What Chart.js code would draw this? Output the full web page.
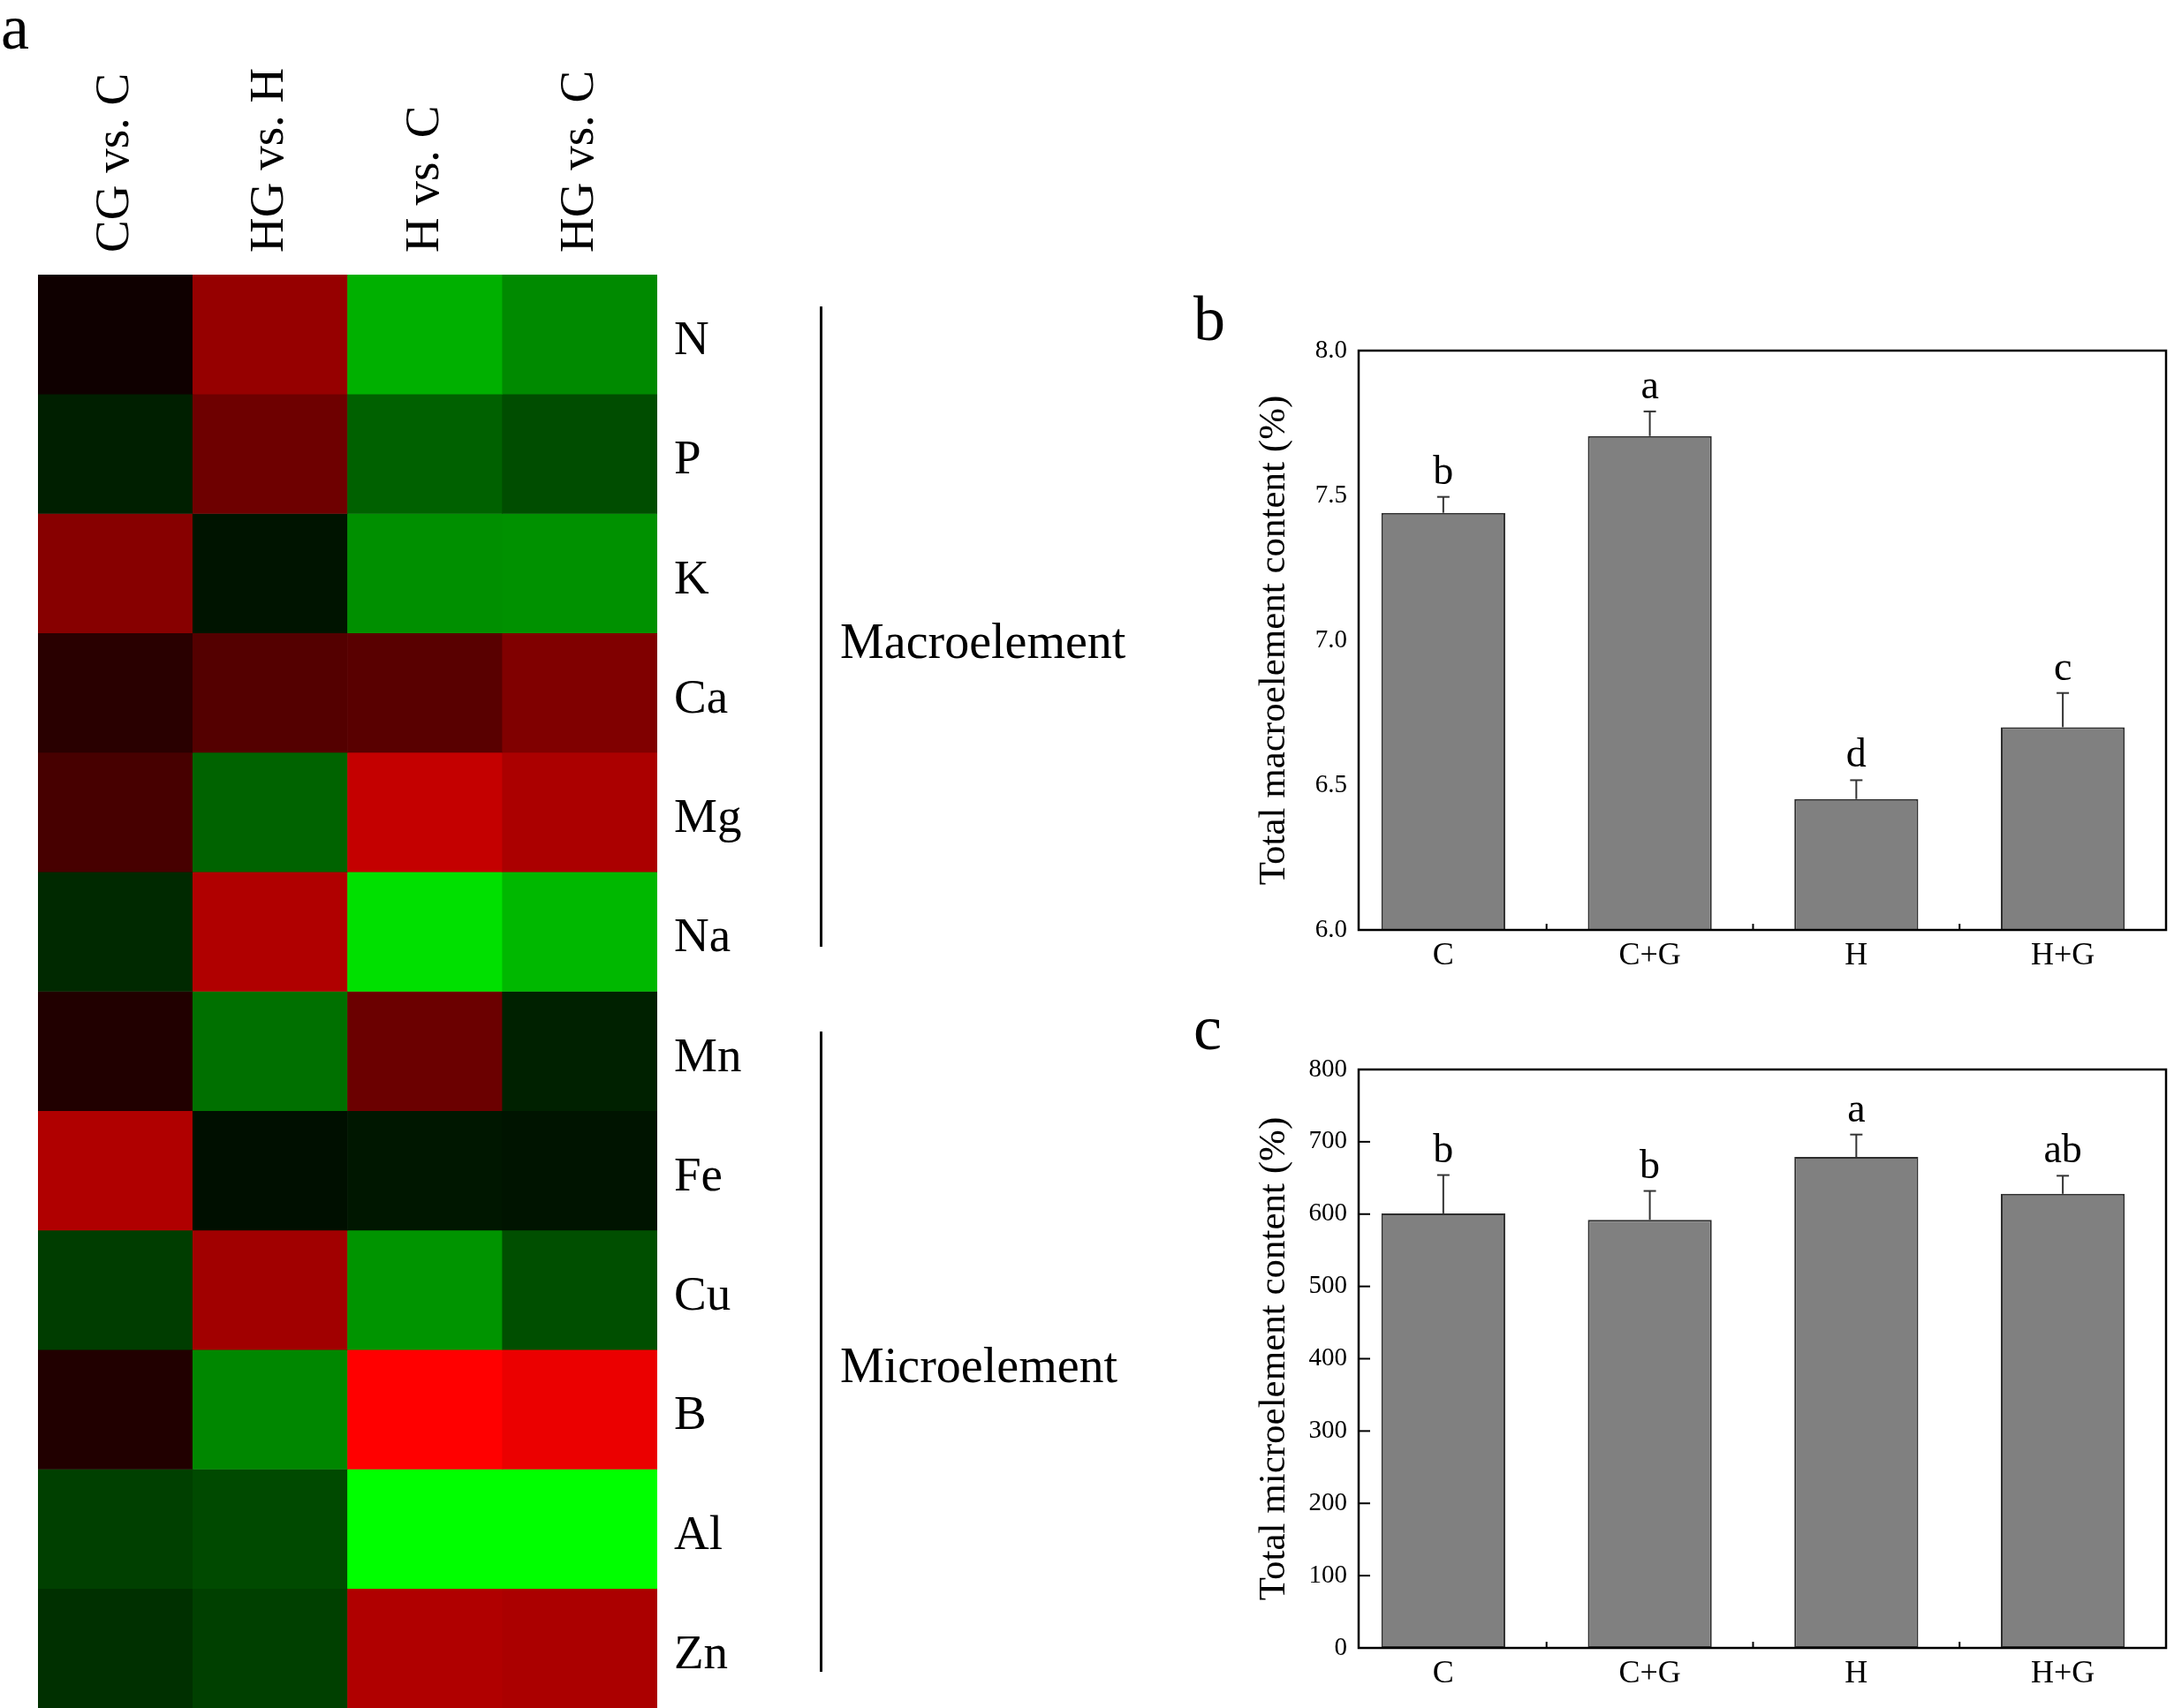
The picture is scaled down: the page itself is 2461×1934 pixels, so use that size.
<!DOCTYPE html>
<html>
<head>
<meta charset="utf-8">
<script src="https://cdn.jsdelivr.net/npm/chart.js@4.4.1/dist/chart.umd.min.js"></script>
<style>
body { margin:0; background:#fff; width:2461px; height:1934px; position:relative; overflow:hidden; font-family:'Liberation Serif','Times New Roman',serif; }
canvas, .lbl, .vline { position:absolute; }
.lbl { line-height:1; color:#000; white-space:nowrap; }
.vline { width:3px; background:#000; }
</style>
</head>
<body>
<div class="lbl" style="left:1px;top:-5px;font-size:72px">a</div>
<div class="lbl" style="left:1351px;top:325px;font-size:72px">b</div>
<div class="lbl" style="left:1351px;top:1128px;font-size:72px">c</div>
<div class="lbl" style="left:951px;top:698px;font-size:56px">Macroelement</div>
<div class="lbl" style="left:951px;top:1518px;font-size:56px">Microelement</div>
<div class="vline" style="left:928px;top:347px;height:725px"></div>
<div class="vline" style="left:928px;top:1168px;height:725px"></div>

<canvas id="heat" width="920" height="1934" style="left:0;top:0"></canvas>
<canvas id="macro" width="1121" height="800" style="left:1340px;top:320px"></canvas>
<canvas id="micro" width="1121" height="804" style="left:1340px;top:1130px"></canvas>

<script>
// heatmap: rows = elements, columns = comparisons
// positive = up (red), negative = down (green)
var elements = ['N', 'P', 'K', 'Ca', 'Mg', 'Na', 'Mn', 'Fe', 'Cu', 'B', 'Al', 'Zn'];
var comparisons = ['CG vs. C', 'HG vs. H', 'H vs. C', 'HG vs. C'];
var cgVsC = [0.06, -0.12, 0.53, 0.16, 0.28, -0.16, 0.13, 0.69, -0.24, 0.13, -0.25, -0.19];
var hgVsH = [0.59, 0.43, -0.08, 0.33, -0.39, 0.69, -0.44, -0.06, 0.63, -0.53, -0.29, -0.25];
var hVsC = [-0.69, -0.38, -0.56, 0.35, 0.77, -0.88, 0.42, -0.09, -0.58, 1.0, -1.0, 0.69];
var hgVsC = [-0.54, -0.30, -0.57, 0.50, 0.67, -0.72, -0.13, -0.08, -0.31, 0.92, -1.0, 0.67];

// bar charts
var treatments = ['C', 'C+G', 'H', 'H+G'];
var macroMean = [7.44, 7.705, 6.452, 6.70];
var macroSE = [0.055, 0.085, 0.065, 0.118];
var macroLetters = ['b', 'a', 'd', 'c'];
var microMean = [601, 592, 679, 628];
var microSE = [53, 40, 31, 25];
var microLetters = ['b', 'b', 'a', 'ab'];

var serif = "'Liberation Serif', 'Times New Roman', serif";
Chart.defaults.color = '#000';
Chart.defaults.font.family = serif;
Chart.defaults.animation = false;

function cellColor(v) {
    if (v >= 0) return 'rgb(' + Math.round(255 * v) + ',0,0)';
    return 'rgb(0,' + Math.round(-255 * v) + ',0)';
}

function noPad(scale) {
    scale.paddingTop = 0; scale.paddingBottom = 0;
    scale.paddingLeft = 0; scale.paddingRight = 0;
}

// ---- heatmap (floating bars, one dataset per element row)
var columns = [cgVsC, hgVsH, hVsC, hgVsC];
var heatSets = elements.map(function(el, r) {
    return {
        label: el,
        data: comparisons.map(function() { return [r, r + 1]; }),
        backgroundColor: columns.map(function(col) { return cellColor(col[r]); }),
        borderWidth: 0,
        grouped: false,
        barPercentage: 1,
        categoryPercentage: 1
    };
});

new Chart(document.getElementById('heat'), {
    type: 'bar',
    data: { labels: comparisons, datasets: heatSets },
    options: {
        responsive: false,
        events: [],
        layout: { padding: { left: 43, top: 0, right: 0, bottom: 0 } },
        plugins: { legend: { display: false }, tooltip: { enabled: false } },
        scales: {
            x: {
                position: 'top',
                grid: { display: false, drawTicks: false },
                border: { display: false },
                ticks: { minRotation: 90, maxRotation: 90, autoSkip: false, padding: 25, labelOffset: 66, font: { size: 55 } },
                afterFit: function(s) { s.height = 311; noPad(s); }
            },
            y: {
                position: 'right',
                min: 0, max: 12, reverse: true,
                grid: { display: false, drawTicks: false },
                border: { display: false },
                afterBuildTicks: function(s) {
                    s.ticks = elements.map(function(e, i) { return { value: i + 0.5 }; });
                },
                ticks: {
                    autoSkip: false, padding: 19, crossAlign: 'near', labelOffset: 8,
                    font: { size: 55 },
                    callback: function(v, i) { return elements[i]; }
                },
                afterFit: function(s) { s.width = 176; noPad(s); }
            }
        }
    }
});

// ---- bar panels
var barExtras = {
    id: 'barExtras',
    afterDatasetsDraw: function(chart, args, o) {
        var ctx = chart.ctx, a = chart.chartArea, x = chart.scales.x, y = chart.scales.y;
        function line(x0, y0, x1, y1) { ctx.beginPath(); ctx.moveTo(x0, y0); ctx.lineTo(x1, y1); ctx.stroke(); }
        ctx.save();
        ctx.strokeStyle = '#333';
        ctx.lineWidth = 2;
        ctx.fillStyle = '#000';
        ctx.font = '46px ' + serif;
        ctx.textAlign = 'center';
        ctx.textBaseline = 'alphabetic';
        o.means.forEach(function(m, i) {
            var px = x.getPixelForValue(i + 1);
            var y0 = y.getPixelForValue(m), y1 = y.getPixelForValue(m + o.errors[i]);
            line(px, y0, px, y1);
            line(px - 7, y1, px + 7, y1);
            ctx.fillText(o.letters[i], px, y1 - 15);
        });
        ctx.strokeStyle = '#000';
        ctx.lineWidth = 2.5;
        ctx.strokeRect(a.left, a.top, a.width, a.height);
        ctx.lineWidth = 2;
        [1.5, 2.5, 3.5].forEach(function(v) {
            var px = x.getPixelForValue(v);
            line(px, a.bottom, px, a.bottom - 7);
        });
        (o.yTicks || []).forEach(function(v) {
            var py = y.getPixelForValue(v);
            line(a.left, py, a.left + 13, py);
        });
        ctx.restore();
    }
};

function barPanel(id, means, errs, letters, yMin, yMax, step, digits, title, padTop, xHeight, yTicks) {
    new Chart(document.getElementById(id), {
        type: 'bar',
        data: {
            datasets: [{
                data: means.map(function(m, i) { return { x: i + 1, y: m }; }),
                backgroundColor: '#808080',
                borderColor: '#2e2e2e',
                borderWidth: 2,
                borderSkipped: false,
                categoryPercentage: 1,
                barPercentage: 0.6
            }]
        },
        options: {
            responsive: false,
            events: [],
            layout: { padding: { left: 0, top: padTop, right: 9, bottom: 0 } },
            plugins: {
                legend: { display: false }, tooltip: { enabled: false },
                barExtras: { means: means, errors: errs, letters: letters, yTicks: yTicks }
            },
            scales: {
                x: {
                    type: 'linear', min: 0.59, max: 4.5, offset: false,
                    grid: { display: false, drawTicks: false, offset: false },
                    border: { display: false },
                    afterBuildTicks: function(s) {
                        s.ticks = treatments.map(function(t, i) { return { value: i + 1 }; });
                    },
                    ticks: {
                        autoSkip: false, padding: 8, font: { size: 36 },
                        callback: function(v) { return treatments[Math.round(v) - 1]; }
                    },
                    afterFit: function(s) { s.height = xHeight; noPad(s); }
                },
                y: {
                    min: yMin, max: yMax,
                    grid: { display: false, drawTicks: false },
                    border: { display: false },
                    ticks: {
                        stepSize: step, padding: 13, font: { size: 29 },
                        callback: function(v) { return v.toFixed(digits); }
                    },
                    title: {
                        display: true, text: title,
                        font: { size: 43 }, padding: { top: 77, bottom: 0 }
                    },
                    afterFit: function(s) { s.width = 198; noPad(s); }
                }
            }
        },
        plugins: [barExtras]
    });
}

barPanel('macro', macroMean, macroSE, macroLetters, 6, 8, 0.5, 1,
    'Total macroelement content (%)', 77, 67, []);
barPanel('micro', microMean, microSE, microLetters, 0, 800, 100, 0,
    'Total microelement content (%)', 81, 68, [100, 200, 300, 400, 500, 600, 700]);
</script>
</body>
</html>
